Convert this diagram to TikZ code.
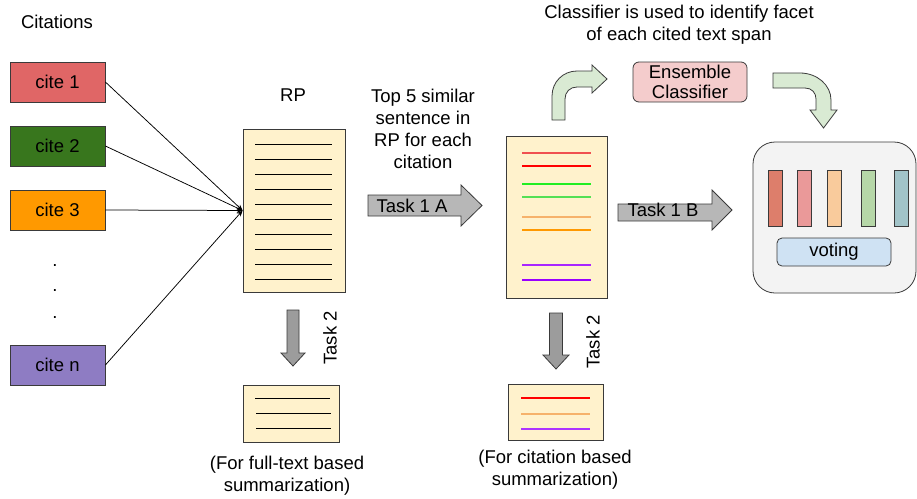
\documentclass[tikz,border=0pt]{standalone}
\usepackage{fontspec}
\setmainfont{Liberation Sans}
\usetikzlibrary{arrows.meta}

\definecolor{citeA}{HTML}{E06666}
\definecolor{citeB}{HTML}{38761D}
\definecolor{citeC}{HTML}{FF9900}
\definecolor{citeN}{HTML}{8E7CC3}
\definecolor{paper}{HTML}{FFF2CC}
\definecolor{edge}{HTML}{3A3A3A}
\definecolor{taskgray}{HTML}{B7B7B7}
\definecolor{taskdark}{HTML}{9C9C9C}
\definecolor{bendgreen}{HTML}{D9EAD3}
\definecolor{ensfill}{HTML}{F4CCCC}
\definecolor{panel}{HTML}{F3F3F3}
\definecolor{voteblue}{HTML}{CFE2F3}
\definecolor{barA}{HTML}{DD7E6B}
\definecolor{barB}{HTML}{EA9999}
\definecolor{barC}{HTML}{F9CB9C}
\definecolor{barD}{HTML}{B6D7A8}
\definecolor{barE}{HTML}{A2C4C9}
\definecolor{hlRedA}{HTML}{F05050}
\definecolor{hlRed}{HTML}{FF0000}
\definecolor{hlGreenA}{HTML}{22EE22}
\definecolor{hlGreen}{HTML}{55E055}
\definecolor{hlOrangeA}{HTML}{F6B26B}
\definecolor{hlOrange}{HTML}{FF9900}
\definecolor{hlPurple}{HTML}{9900FF}

\tikzset{
  every node/.style={font=\fontsize{18.5}{22}\selectfont},
  citebox/.style={draw=edge, line width=0.8pt, minimum width=95pt, minimum height=40pt, inner sep=0pt},
  doc/.style={draw=edge, line width=0.8pt, fill=paper, inner sep=0pt},
  docline/.style={line width=0.9pt},
  hiline/.style={line width=1.3pt},
  feed/.style={line width=0.75pt, -{Stealth[length=6pt,width=5pt]}},
  blockarrow/.style={draw=edge, line width=0.8pt},
  bar/.style={draw=edge, line width=0.8pt, minimum width=14pt, minimum height=56pt, inner sep=0pt},
  label/.style={align=center, inner sep=0pt},
}

\begin{document}
\begin{tikzpicture}[x=1pt, y=-1pt]
\useasboundingbox (0,0) rectangle (917,498);

% citation sources
\node[label] (cittitle) at (57,22) {Citations};
\node[citebox, fill=citeA] (c1) at (57.5,82) {cite 1};
\node[citebox, fill=citeB] (c2) at (57.5,146) {cite 2};
\node[citebox, fill=citeC] (c3) at (57.5,210) {cite 3};
\node[citebox, fill=citeN] (cn) at (57.5,365) {cite n};
\node[inner sep=0pt] (d1) at (55,266) {.};
\node[inner sep=0pt] (d2) at (55,291) {.};
\node[inner sep=0pt] (d3) at (55,318) {.};

% reference paper
\node[label] (rplabel) at (293,95) {RP};
\node[doc, minimum width=102pt, minimum height=163pt] (rp) at (294,210.5) {};
\foreach \yy in {144,159,...,279} {
  \draw[docline] ([yshift=-\yy pt+210.5pt]rp.center -| 255,0) -- ([yshift=-\yy pt+210.5pt]rp.center -| 332,0);
}
\coordinate (rpin) at (rp.west);
\foreach \c in {c1,c2,c3,cn} {
  \draw[feed] (\c.east) -- (rpin);
}

% task 1A
\node[label] (toptext) at (423,128.5) {Top 5 similar\\sentence in\\RP for each\\citation};
\filldraw[blockarrow, fill=taskgray] (368,195) -- (461,195) -- (461,185) -- (482,205.5) -- (461,226) -- (461,216) -- (368,216) -- cycle;
\node[label] (t1a) at (412,205.5) {Task 1 A};

% selected sentences
\node[doc, minimum width=101pt, minimum height=162pt] (sel) at (556.5,217) {};
\draw[hiline, hlRedA] (522,153) -- (591,153);
\draw[hiline, hlRed] (522,166) -- (591,166);
\draw[hiline, hlGreenA] (522,184) -- (591,184);
\draw[hiline, hlGreen] (522,197) -- (591,197);
\draw[hiline, hlOrangeA] (522,217) -- (591,217);
\draw[hiline, hlOrange] (522,230) -- (591,230);
\draw[hiline, hlPurple!85] (522,265) -- (591,265);
\draw[hiline, hlPurple] (522,280) -- (591,280);

% classifier
\node[label] (clstext) at (679,25) {Classifier is used to identify facet\\of each cited text span};
\filldraw[blockarrow, fill=bendgreen] (552,120) -- (552,96) .. controls (552,82) and (563,71) .. (577,71) -- (592,71) -- (592,65) -- (607,79) -- (592,93) -- (592,87) -- (577,87) .. controls (570,87) and (565,92) .. (565,99) -- (565,120) -- cycle;
\node[draw=edge, line width=0.8pt, fill=ensfill, rounded corners=6pt, minimum width=114pt, minimum height=40pt, inner sep=0pt, align=center, font=\fontsize{18.5}{20}\selectfont] (ens) at (690,82) {Ensemble\\Classifier};
\filldraw[blockarrow, fill=bendgreen] (773,73) -- (800,73) .. controls (817,73) and (831,85) .. (831,100) -- (831,110) -- (837,110) -- (823.5,128) -- (810,110) -- (816,110) -- (816,99) .. controls (816,93) and (812,88) .. (805,88) -- (773,88) -- cycle;

% task 1B
\filldraw[blockarrow, fill=taskgray] (618,204) -- (712,204) -- (712,190) -- (732,210) -- (712,230) -- (712,221) -- (618,221) -- cycle;
\node[label] (t1b) at (663,210) {Task 1 B};

% voting ensemble
\node[draw=edge, line width=0.8pt, fill=panel, rounded corners=22pt, minimum width=163pt, minimum height=151pt, inner sep=0pt] (pan) at (834.5,217.5) {};
\node[bar, fill=barA] (b1) at (775,198) {};
\node[bar, fill=barB] (b2) at (804,198) {};
\node[bar, fill=barC] (b3) at (834,198) {};
\node[bar, fill=barD] (b4) at (868,198) {};
\node[bar, fill=barE] (b5) at (901,198) {};
\node[draw=edge, line width=0.8pt, fill=voteblue, rounded corners=5pt, minimum width=114pt, minimum height=28pt, inner sep=0pt] (vote) at (834,252) {voting};

% task 2 on the full paper
\filldraw[blockarrow, fill=taskdark] (287,310) -- (299,310) -- (299,353) -- (305,353) -- (293,366) -- (281,353) -- (287,353) -- cycle;
\node[label, rotate=90] (t2a) at (330,338) {Task 2};
\node[doc, minimum width=96pt, minimum height=57pt] (sumA) at (291,413.5) {};
\draw[docline] (255,398) -- (330,398);
\draw[docline] (256,413) -- (331,413);
\draw[docline] (256,428) -- (331,428);
\node[label] (capA) at (287,476) {(For full-text based\\summarization)};

% task 2 on the selected sentences
\filldraw[blockarrow, fill=taskdark] (549.5,313) -- (562.5,313) -- (562.5,355) -- (569,355) -- (556,369) -- (543,355) -- (549.5,355) -- cycle;
\node[label, rotate=90] (t2b) at (593,342) {Task 2};
\node[doc, minimum width=95pt, minimum height=56pt] (sumB) at (555.5,412) {};
\draw[hiline, hlRed] (521,398) -- (590,398);
\draw[hiline, hlOrangeA] (521,414) -- (590,414);
\draw[hiline, hlPurple!80] (521,429) -- (590,429);
\node[label] (capB) at (555,470) {(For citation based\\summarization)};
\end{tikzpicture}
\end{document}
